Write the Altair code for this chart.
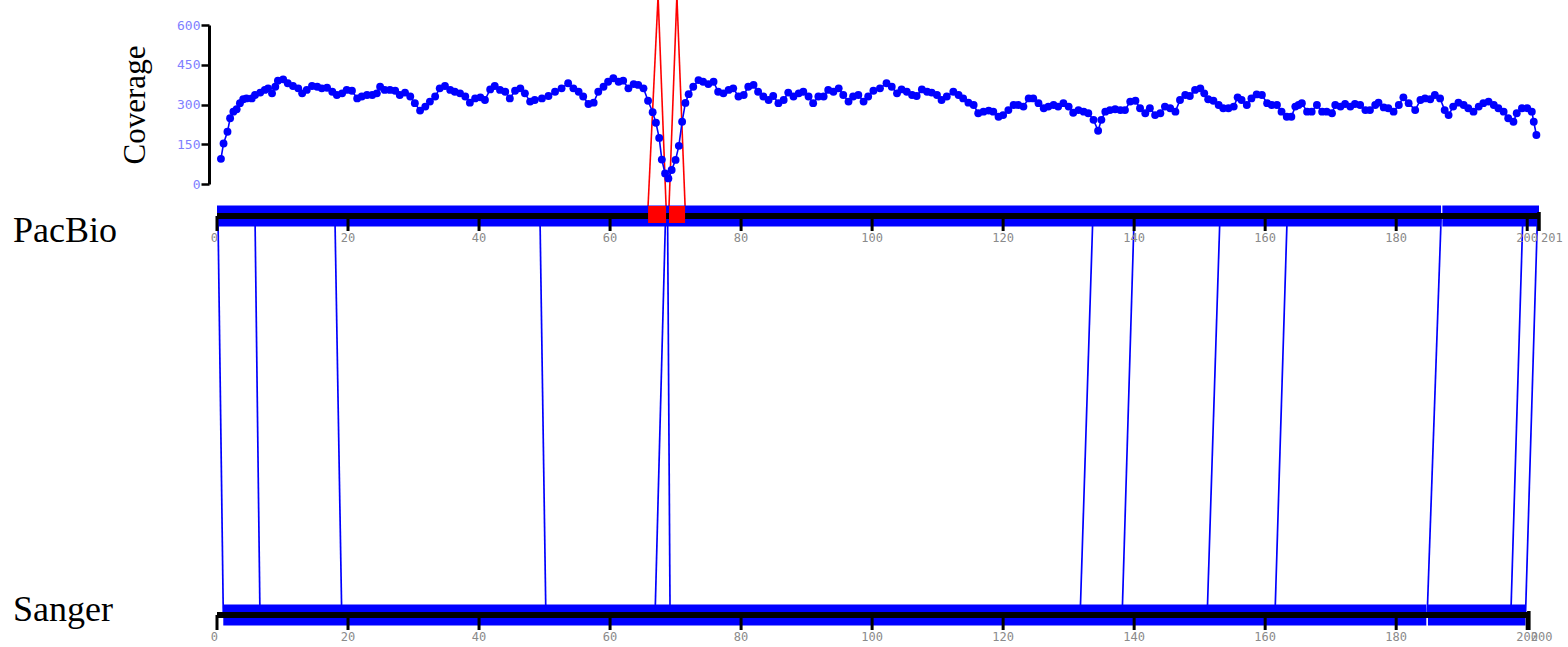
import altair as alt
import pandas as pd

# ---------------- data ----------------
# coverage track (position in kb, coverage)
cov_pos = [0.6, 1.0, 1.6, 2.0, 2.5, 3.0, 3.5, 4.0, 4.5, 5.3, 5.8, 6.6, 7.3, 7.8, 8.4, 8.9, 9.3, 10.1, 10.8, 11.6,
           12.4, 13.0, 13.7, 14.5, 15.3, 16.0, 16.8, 17.6, 18.3, 19.1, 19.8, 20.6, 21.4, 22.1, 22.9, 23.7, 24.4, 24.9,
           25.6, 26.4, 27.2, 27.9, 28.7, 29.5, 30.2, 31.0, 31.8, 32.5, 33.3, 34.0, 34.8, 35.6, 36.3, 37.1, 37.9, 38.6,
           39.4, 40.2, 40.9, 41.7, 42.4, 43.2, 44.0, 44.7, 45.5, 46.3, 47.0, 47.8, 48.5,
           49.6, 50.6, 51.6, 52.6, 53.6, 54.4, 55.2, 55.9, 56.7, 57.5, 58.2, 59.0, 59.7, 60.5, 61.3, 62.0, 62.8, 63.6,
           64.3, 65.1, 65.8, 66.5, 67.0, 67.5, 67.9, 68.4, 68.9, 69.4, 70.0, 70.5, 71.0, 71.5, 72.0, 72.7, 73.5, 74.2,
           75.0, 75.8, 76.5, 77.3, 78.1, 78.8, 79.6, 80.4, 81.1, 81.9, 82.6, 83.4, 84.2, 84.9, 85.7, 86.5, 87.2, 88.0,
           88.8, 89.5, 90.3, 91.0, 91.8, 92.6, 93.3, 94.1, 94.9, 95.6, 96.4, 97.1, 97.9, 98.7, 99.4, 100.2,
           101.2, 102.2, 103.0, 103.8, 104.5, 105.3, 106.1, 106.8, 107.6, 108.4, 109.1, 109.9, 110.6, 111.4, 112.4,
           113.2, 113.9, 114.7, 115.5, 116.2, 117.0, 117.8, 118.5, 119.3, 120.0, 120.8, 121.6, 122.3, 123.1, 123.9,
           124.6, 125.4, 126.2, 126.9, 127.7, 128.4, 129.2, 130.0, 130.7, 131.5, 132.3, 133.0, 133.8, 134.5, 135.0,
           135.6, 136.3, 137.1, 137.9, 138.6, 139.4, 140.2, 140.9, 141.7, 142.4, 143.2, 144.0, 144.7, 145.5, 146.3,
           147.0, 147.8, 148.5, 149.3, 150.1,
           150.7, 151.3, 152.1, 152.9, 153.6, 154.4, 155.2, 155.8, 156.4, 157.2, 157.9, 158.7, 159.5, 160.3, 161.0,
           161.8, 162.5, 163.3, 164.0, 164.6, 165.1, 165.6, 166.4, 167.1, 167.9, 168.7, 169.4, 170.2, 170.7, 171.5,
           172.2, 173.0, 173.7, 174.5, 175.3, 176.0, 176.8, 177.3, 178.1, 178.8, 179.6, 180.4, 181.1, 181.9, 182.9,
           183.7, 184.4, 185.2, 185.9, 186.7, 187.4, 188.0, 188.7, 189.5, 190.3, 191.0, 191.8, 192.6, 193.3, 194.1,
           194.9, 195.6, 196.4, 197.1, 197.9, 198.4, 199.2, 200.0, 200.7, 201.0, 201.4]
cov_val = [95, 153, 197, 248, 273, 282, 305, 320, 323, 323, 336, 345, 355, 361, 342, 367, 390, 395, 380, 370,
           361, 342, 355, 370, 367, 361, 363, 348, 336, 342, 355, 352, 323, 330, 336, 336, 342, 367,
           355, 355, 352, 336, 345, 330, 305, 277, 292, 311, 330, 361, 370, 355, 348, 342, 330, 307,
           323, 327, 317, 357, 370, 355, 348, 323, 352, 361, 342, 311, 317,
           323, 332, 348, 361, 380, 361, 348, 330, 302, 307, 348, 367, 386, 399, 386, 390, 361, 377,
           374, 361, 314, 271, 231, 174, 92, 40, 21, 53, 91, 144, 235, 306, 339, 367, 392, 386,
           377, 386, 348, 342, 355, 361, 330, 336, 367, 374, 348, 330, 317, 332, 305, 317, 345, 330,
           342, 348, 330, 305, 330, 330, 355, 348, 361, 336, 311, 330, 336, 311, 330, 352,
           361, 380, 367, 342, 357, 348, 336, 332, 357, 348, 345, 336, 317, 330, 348,
           336, 323, 307, 298, 267, 273, 277, 273, 254, 260, 279, 298, 298, 292, 323,
           323, 305, 286, 292, 298, 292, 305, 292, 269, 279, 273, 267, 242, 201, 242,
           273, 279, 282, 279, 279, 311, 314, 286, 267, 286, 260, 267, 292, 286, 273,
           317, 336, 332, 355, 361,
           342, 320, 314, 298, 286, 286, 292, 327, 317, 298, 323, 338, 336, 305, 298,
           298, 273, 254, 254, 292, 298, 305, 273, 273, 298, 273, 273, 267, 298, 292,
           302, 292, 302, 298, 279, 279, 298, 307, 289, 286, 273, 298, 327, 305, 279,
           317, 323, 320, 336, 323, 279, 260, 292, 307, 298, 286, 273, 292, 305, 311,
           298, 286, 273, 248, 235, 267, 286, 286, 273, 235, 185]

# alignment links: PacBio position -> Sanger position (kb)
link_pacbio = [0.15, 5.8, 18.0, 49.3, 68.47, 68.78, 133.7, 140.0, 153.1, 163.36, 186.87, 199.34, 201.57]
link_sanger = [0.96, 6.56, 19.04, 50.2, 66.87, 69.16, 131.76, 138.17, 151.15, 161.5, 184.73, 197.5, 199.74]

# aligned blocks on each assembly (kb)
pac_block_start = [0.0, 187.05]
pac_block_end = [186.85, 201.8]
san_block_start = [0.96, 184.85]
san_block_end = [184.6, 199.74]

# flagged (red) regions on PacBio
flag_start = [65.8, 69.0]
flag_end = [68.55, 71.45]
flag_apex = [67.33, 70.2]

# sequence lengths and tick labels
tick_values = [0, 20, 40, 60, 80, 100, 120, 140, 160, 180, 200]
seq_names = ["PacBio", "Sanger"]
seq_length = [201.8, 200.25]
seq_length_label = ["201", "200"]

cov_ticks = [0, 150, 300, 450, 600]

# ---------------- layout ----------------
XMAX = 201.8
W = 1322
H = 647
BLUE = "#0000ff"

xs = alt.Scale(domain=[0, XMAX])
track_scale = alt.Scale(domain=[0, 1], range=[216, 615])
cov_scale = alt.Scale(domain=[0, 600], range=[184, 25])


def X(f):
    return alt.X(f, type="quantitative", scale=xs, axis=None)


def TY(f):
    return alt.Y(f, type="quantitative", scale=track_scale, axis=None)


cov_df = pd.DataFrame({"pos": cov_pos, "cov": cov_val})
links_df = pd.DataFrame({"pac": link_pacbio, "san": link_sanger, "t0": 0, "t1": 1})
blocks_df = pd.DataFrame({
    "start": pac_block_start + san_block_start,
    "end": pac_block_end + san_block_end,
    "track": [0] * len(pac_block_start) + [1] * len(san_block_start),
})
flags_df = pd.DataFrame({"start": flag_start, "end": flag_end, "apex": flag_apex, "track": 0})
flag_edges_df = pd.DataFrame({
    "base": flag_start + flag_end,
    "apex": flag_apex + flag_apex,
    "track": 0,
})
axisline_df = pd.DataFrame({"end": seq_length, "track": [0, 1], "start": 0.0})
ticks_df = pd.DataFrame({
    "pos": tick_values * 2,
    "track": [0] * len(tick_values) + [1] * len(tick_values),
    "label": [str(v) for v in tick_values] * 2,
})
end_df = pd.DataFrame({"pos": seq_length, "track": [0, 1], "label": seq_length_label})
names_df = pd.DataFrame({"name": seq_names})

links = alt.Chart(links_df).mark_rule(color=BLUE, strokeWidth=1.7).encode(
    x=X("pac"), x2="san", y=TY("t0"), y2="t1")

flag_lines = alt.Chart(flag_edges_df).mark_rule(color="#ff0000", strokeWidth=1.6, yOffset=-10).encode(
    x=X("base"), x2="apex", y=TY("track"), y2=alt.value(-4))

cov_line = alt.Chart(cov_df).mark_line(color=BLUE, strokeWidth=1.6).encode(
    x=X("pos"),
    y=alt.Y("cov", type="quantitative", scale=cov_scale,
            axis=alt.Axis(values=cov_ticks, orient="left", offset=8, grid=False,
                          domainColor="black", domainWidth=3, tickColor="black", tickWidth=2.5,
                          tickSize=8, labelColor="#8080ff", labelFont="DejaVu Sans Mono",
                          labelFontSize=13, labelPadding=1, title="Coverage",
                          titleFont="Liberation Serif", titleFontSize=31, titleFontWeight="normal",
                          titleColor="black", titlePadding=25)))

cov_pts = alt.Chart(cov_df).mark_circle(color=BLUE, size=62, opacity=1).encode(
    x=X("pos"), y=alt.Y("cov", type="quantitative", scale=cov_scale, axis=None))

bars = alt.Chart(blocks_df).mark_rule(color=BLUE, strokeWidth=21, strokeCap="butt").encode(
    x=X("start"), x2="end", y=TY("track"))

axis_lines = alt.Chart(axisline_df).mark_rule(color="black", strokeWidth=6, strokeCap="butt").encode(
    x=X("start"), x2="end", y=TY("track"))

ticks = alt.Chart(ticks_df).mark_rule(color="black", strokeWidth=3, y2Offset=15, strokeCap="butt").encode(
    x=X("pos"), y=TY("track"), y2="track")

end_ticks = alt.Chart(end_df).mark_rule(color="black", strokeWidth=3.5, yOffset=-4, y2Offset=15,
                                        strokeCap="butt").encode(
    x=X("pos"), y=TY("track"), y2="track")

lab_style = dict(font="DejaVu Sans Mono", fontSize=12, color="#8a8a8a", baseline="middle", dy=22)
tick_lab_mid = alt.Chart(ticks_df).transform_filter("datum.pos > 0").mark_text(align="center", **lab_style).encode(
    x=X("pos"), y=TY("track"), text="label")
tick_lab_zero = alt.Chart(ticks_df).transform_filter("datum.pos == 0").mark_text(align="right", dx=1, **lab_style).encode(
    x=X("pos"), y=TY("track"), text="label")
tick_lab_end = alt.Chart(end_df).mark_text(align="left", dx=2, **lab_style).encode(
    x=X("pos"), y=TY("track"), text="label")

flag_boxes = alt.Chart(flags_df).mark_rule(color="#ff0000", strokeWidth=17, yOffset=-1.5, strokeCap="butt").encode(
    x=X("start"), x2="end", y=TY("track"))

pac_name = alt.Chart(names_df).transform_filter("datum.name == 'PacBio'").mark_text(
    font="Liberation Serif", fontSize=36, color="black", align="left", baseline="alphabetic").encode(
    x=alt.value(-204), y=alt.value(242), text="name")
san_name = alt.Chart(names_df).transform_filter("datum.name == 'Sanger'").mark_text(
    font="Liberation Serif", fontSize=36, color="black", align="left", baseline="alphabetic").encode(
    x=alt.value(-204), y=alt.value(621), text="name")

chart = alt.layer(
    links, flag_lines, cov_line, cov_pts, bars, axis_lines, ticks, end_ticks,
    tick_lab_mid, tick_lab_zero, tick_lab_end, flag_boxes, pac_name, san_name
).resolve_scale(y="independent").properties(
    width=W, height=H,
    autosize=alt.AutoSizeParams(type="none"),
    padding={"left": 217, "top": 0, "right": 1568 - 217 - W, "bottom": 0},
).configure(background="white", view=alt.ViewConfig(strokeWidth=0, stroke=None))

chart.save("out.html", embed_options={"renderer": "svg", "actions": False})
